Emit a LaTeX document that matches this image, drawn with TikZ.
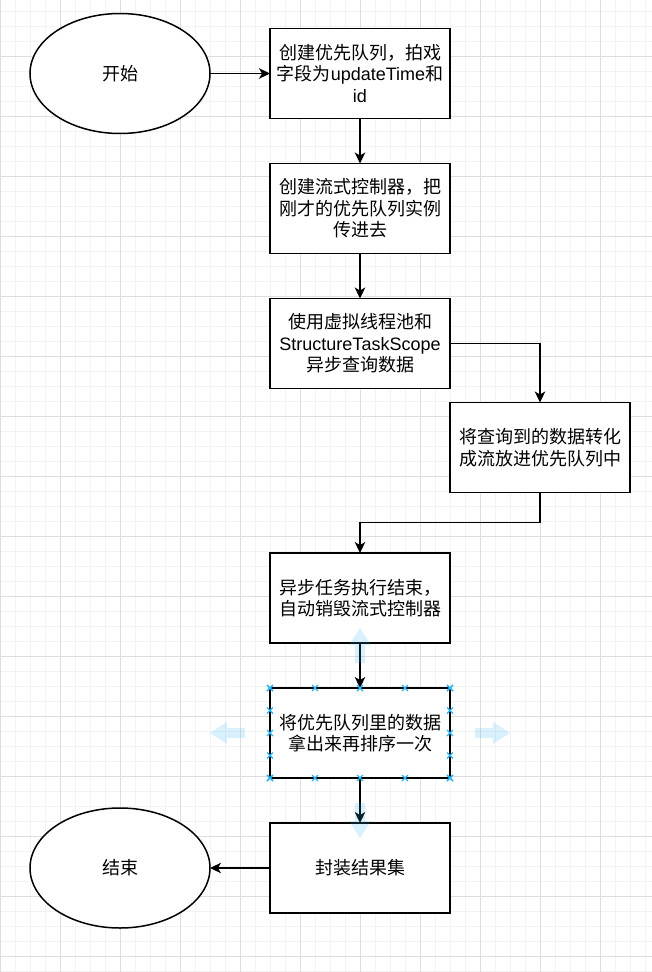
\documentclass[tikz,border=0pt]{standalone}
\usepackage{fontspec}
\setmainfont{Liberation Sans}
\newfontfamily\cjk{Noto Sans CJK SC}
\usetikzlibrary{shapes.geometric,positioning,calc,arrows.meta}
\newcommand{\zhtxt}[1]{{\cjk #1}}
\definecolor{gridminor}{RGB}{243,243,243}
\definecolor{gridmajor}{RGB}{222,222,222}
\definecolor{selblue}{RGB}{41,182,242}
\begin{document}
\begin{tikzpicture}
[x=1pt,y=-1pt,node distance=45pt,
terminal/.style={shape=ellipse,draw,fill=white,line width=1.5pt,minimum width=180pt,minimum height=120pt,inner sep=0pt,outer sep=0pt,font=\fontsize{18}{21.6}\selectfont},
procbox/.style={shape=rectangle,draw,fill=white,line width=1.5pt,minimum width=180pt,minimum height=90pt,inner sep=0pt,outer sep=0pt,align=center,font=\fontsize{18}{21.6}\selectfont},
%
flowline/.style={line width=1.5pt,-{Stealth[length=11pt,width=10.5pt,inset=3pt]}},
selmark/.style={fill=selblue,fill opacity=.18},
selcross/.style={draw=selblue,line width=1.2pt}]
%
\useasboundingbox (0,0) rectangle (652,972);
\fill[white] (0,0) rectangle (652,972);
%% grid
\foreach \x in {0,15,...,645} \draw[gridminor,line width=1pt] (\x,0) -- (\x,972);
\foreach \y in {11.7,26.7,...,971.7} \draw[gridminor,line width=1pt] (0,\y) -- (652,\y);
\foreach \x in {0,60,...,600} \draw[gridmajor,line width=1pt] (\x,0) -- (\x,972);
\foreach \y in {56.7,116.7,...,956.7} \draw[gridmajor,line width=1pt] (0,\y) -- (652,\y);
%
\node (start) [terminal] at (120,73.5) {\zhtxt{开始}};
\node (mkqueue) [procbox,right=60pt of start] {\zhtxt{创建优先队列，拍戏}\\\zhtxt{字段为}updateTime\zhtxt{和}\\id};
\node (mkctrl) [procbox,below=of mkqueue] {\zhtxt{创建流式控制器，把}\\\zhtxt{刚才的优先队列实例}\\\zhtxt{传进去}};
\node (query) [procbox,below=of mkctrl] {\zhtxt{使用虚拟线程池和}\\StructureTaskScope\\\zhtxt{异步查询数据}};
\node (toflow) [procbox,below right=14pt and 0pt of query] {\zhtxt{将查询到的数据转化}\\\zhtxt{成流放进优先队列中}};
\node (finish) [procbox] at (360,598) {\zhtxt{异步任务执行结束，}\\\zhtxt{自动销毁流式控制器}};
\node (resort) [procbox,below=of finish] {\zhtxt{将优先队列里的数据}\\\zhtxt{拿出来再排序一次}};
\node (pack) [procbox,below=of resort] {\zhtxt{封装结果集}};
\node (stop) [terminal] at (120,868) {\zhtxt{结束}};
%
\draw[flowline] (start) -- (mkqueue);
\draw[flowline] (mkqueue) -- (mkctrl);
\draw[flowline] (mkctrl) -- (query);
\draw[flowline] (query.east) -| (toflow.north);
\draw[flowline] (toflow.south) -- ++(0,30) -| (finish.north);
\draw[flowline] (finish) -- (resort);
\draw[flowline] (resort) -- (pack);
\draw[flowline] (pack) -- (stop);
%
%% selection handles of resort
\fill[selmark] (360,628) -- (371,645) -- (365,645) -- (365,663) -- (355,663) -- (355,645) -- (349,645) -- cycle;
\fill[selmark] (360,838) -- (371,821) -- (365,821) -- (365,803) -- (355,803) -- (355,821) -- (349,821) -- cycle;
\fill[selmark] (210,733) -- (227,722) -- (227,728) -- (245,728) -- (245,738) -- (227,738) -- (227,744) -- cycle;
\fill[selmark] (510,733) -- (493,722) -- (493,728) -- (475,728) -- (475,738) -- (493,738) -- (493,744) -- cycle;
\foreach \t in {0,0.25,0.5,0.75,1} {
  \coordinate (hn) at ($(resort.north west)!\t!(resort.north east)$);
  \coordinate (hs) at ($(resort.south west)!\t!(resort.south east)$);
  \coordinate (hw) at ($(resort.north west)!\t!(resort.south west)$);
  \coordinate (he) at ($(resort.north east)!\t!(resort.south east)$);
  \foreach \h in {hn,hs,hw,he}
    \draw[selcross] ($(\h)+(-3,-3)$) -- ($(\h)+(3,3)$) ($(\h)+(-3,3)$) -- ($(\h)+(3,-3)$);
}
\end{tikzpicture}
\end{document}
